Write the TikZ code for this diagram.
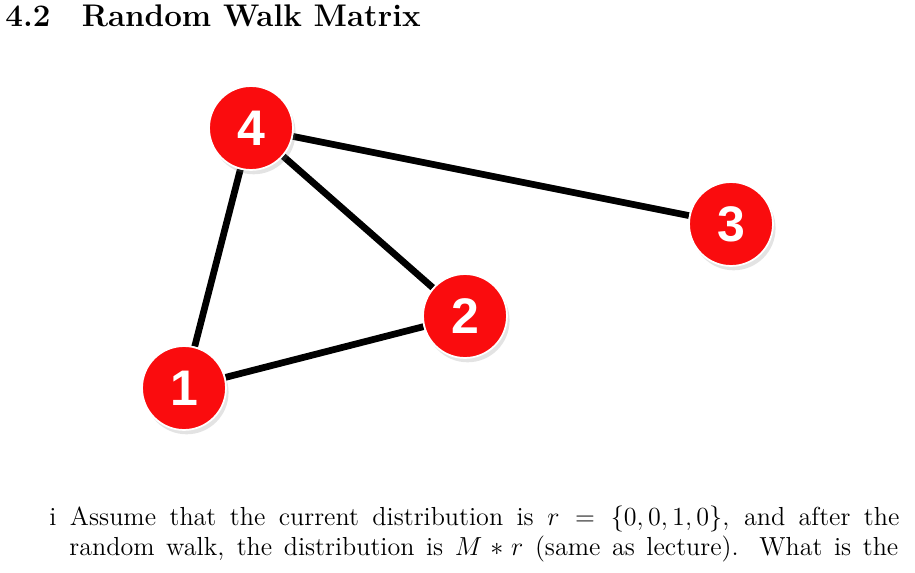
\documentclass[tikz,border=0pt]{standalone}
\usepackage{fontspec}
\usepackage{tikz}
\usetikzlibrary{backgrounds,shadows}
\newfontfamily\numfont{Liberation Sans}
\definecolor{vtxred}{RGB}{250,12,14}

\begin{document}
\begin{tikzpicture}[
  x=0.46pt, y=-0.46pt,
  vtx/.style={circle,fill=vtxred,draw=white,line width=0.8pt,minimum size=38.6pt,
    inner sep=0pt,text=white,font=\numfont\bfseries\fontsize{23}{23}\selectfont,
    drop shadow={opacity=0.22,shadow xshift=1.2pt,shadow yshift=-2pt}},
  edge/.style={line width=3.1pt,black},
  headtxt/.style={anchor=base west,inner sep=0pt,font=\fontsize{14.4}{17}\selectfont\bfseries},
  bodytxt/.style={anchor=base west,inner sep=0pt,font=\fontsize{12}{14}\selectfont},
]
\useasboundingbox (0,0) rectangle (915,572);
\node[headtxt] (head) at (5,27) {4.2\quad Random Walk Matrix};

% graph
\node[vtx] (n4) at (251,128) {4};
\node[vtx] (n3) at (731,224) {3};
\node[vtx] (n2) at (465,316) {2};
\node[vtx] (n1) at (184,388) {1};

\begin{scope}[on background layer]
\draw[edge] (n4) -- (n1);
\draw[edge] (n4) -- (n2);
\draw[edge] (n4) -- (n3);
\draw[edge] (n1) -- (n2);
\end{scope}

% question text
\node[bodytxt] (line1) at (49,525) {\makebox[391pt][s]{i Assume that the current distribution is $r = \{0,0,1,0\}$, and after the}};
\node[bodytxt] (line2) at (69,555) {\makebox[381.3pt][s]{random walk, the distribution is $M*r$ (same as lecture). What is the}};
\end{tikzpicture}
\end{document}
